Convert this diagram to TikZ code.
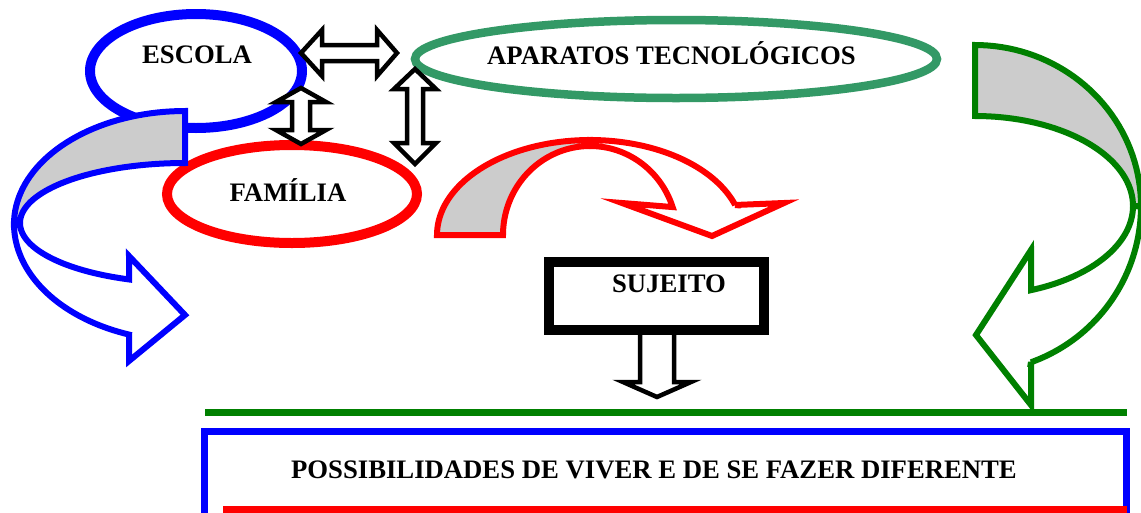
\documentclass[tikz,border=0pt]{standalone}
\usepackage{fontspec}
\setmainfont{Liberation Serif}
\usetikzlibrary{shapes.geometric}
\definecolor{eblue}{RGB}{0,0,255}
\definecolor{ered}{RGB}{255,0,0}
\definecolor{egreen}{RGB}{0,128,0}
\definecolor{sgreen}{RGB}{51,153,102}
\definecolor{bandgray}{RGB}{204,204,204}
\begin{document}
\begin{tikzpicture}[x=1pt,y=-1pt,line join=miter,
  lbl/.style={font=\fontsize{26.7}{30}\selectfont\bfseries,inner sep=0pt,anchor=base},
  oval/.style={ellipse,inner sep=0pt},
  dbl/.style={draw=black,fill=white,line width=4.5pt},
  bluearrow/.style={draw=eblue,line width=6pt},
  redarrow/.style={draw=ered,line width=6pt},
  greenarrow/.style={draw=egreen,line width=6pt}]
\useasboundingbox (0,0) rectangle (1141,512);
\fill[white] (0,0) rectangle (1141,512);

% ellipses
\node[oval,draw=eblue,line width=10pt,minimum width=212pt,minimum height=114pt] (escola) at (196,71) {};
\node[oval,draw=ered,line width=10pt,minimum width=250pt,minimum height=98pt] (familia) at (292,194) {};
\node[oval,draw=sgreen,line width=8.5pt,minimum width=522pt,minimum height=78pt] (aparatos) at (676,59) {};

% blue curved arrow (left)
\draw[bluearrow,fill=white]
  plot[domain=180:109.8,samples=40] ({185+165*cos(\x)},{223+60*sin(\x)})
  -- (129,256) -- (185,315) -- (129,361) -- (129,335)
  -- plot[domain=109.1:180,samples=40] ({185+171*cos(\x)},{224+117*sin(\x)})
  -- cycle;
\draw[bluearrow,fill=bandgray]
  plot[domain=270:180,samples=40] ({185+171*cos(\x)},{224+113*sin(\x)})
  -- plot[domain=180:270,samples=40] ({185+165*cos(\x)},{223+60*sin(\x)})
  -- cycle;

% red curved arrow (middle)
\draw[redarrow,fill=white]
  plot[domain=270:341.7,samples=40] ({590+87*cos(\x)},{235+89*sin(\x)})
  -- (622,203) -- (712,236) -- (784,203) -- (735,205)
  -- plot[domain=341.6:270,samples=40] ({590+153*cos(\x)},{235+95*sin(\x)})
  -- cycle;
\draw[redarrow,fill=bandgray]
  plot[domain=180:270,samples=40] ({590+153*cos(\x)},{235+95*sin(\x)})
  -- plot[domain=270:180,samples=40] ({590+87*cos(\x)},{235+89*sin(\x)})
  -- cycle;

% green curved arrow (right)
\draw[greenarrow,fill=white]
  plot[domain=0:69.2,samples=40] ({975+158*cos(\x)},{206+90*sin(\x)})
  -- (1031,250) -- (976,335) -- (1031,405) -- (1031,362)
  -- plot[domain=70.3:0,samples=40] ({975+166*cos(\x)},{206+166*sin(\x)})
  -- cycle;
\draw[greenarrow,fill=bandgray]
  plot[domain=270:360,samples=40] ({975+166*cos(\x)},{206+161*sin(\x)})
  -- plot[domain=360:270,samples=40] ({975+158*cos(\x)},{206+90*sin(\x)})
  -- cycle;

% double arrows
\draw[dbl] (301,53) -- (322,30) -- (322,45) -- (377,45) -- (377,30) -- (397,53)
  -- (377,76) -- (377,61) -- (322,61) -- (322,76) -- cycle;
\draw[dbl] (301,88) -- (326,102) -- (310,102) -- (310,130) -- (326,130) -- (301,144)
  -- (276,130) -- (292,130) -- (292,102) -- (276,102) -- cycle;
\draw[dbl] (415,69) -- (436,89) -- (423,89) -- (423,143) -- (436,143) -- (415,164)
  -- (394,143) -- (407,143) -- (407,89) -- (394,89) -- cycle;

% arrow below SUJEITO
\draw[dbl] (640,328) -- (640,382) -- (623,382) -- (657,397) -- (691,382)
  -- (674,382) -- (674,328);

% SUJEITO box
\node[draw=black,fill=white,line width=10pt,minimum width=215pt,minimum height=68pt,inner sep=0pt] (sujeitobox) at (656,296) {};

% green line
\draw[draw=egreen,line width=7pt] (205,412) -- (1127,412);

% bottom box
\node[draw=eblue,line width=7pt,minimum width=922pt,minimum height=100pt,inner sep=0pt] (possbox) at (665.5,481.5) {};
\draw[draw=ered,line width=9pt] (223,510) -- (1127,510);

% labels
\node[lbl] (tescola) at (197,63) {ESCOLA};
\node[lbl] (taparatos) at (671.5,64.5) {APARATOS TECNOLÓGICOS};
\node[lbl] (tfamilia) at (288,201.5) {FAMÍLIA};
\node[lbl] (tsujeito) at (669,292) {SUJEITO};
\node[lbl] (tposs) at (654,478) {POSSIBILIDADES DE VIVER E DE SE FAZER DIFERENTE};
\end{tikzpicture}
\end{document}
